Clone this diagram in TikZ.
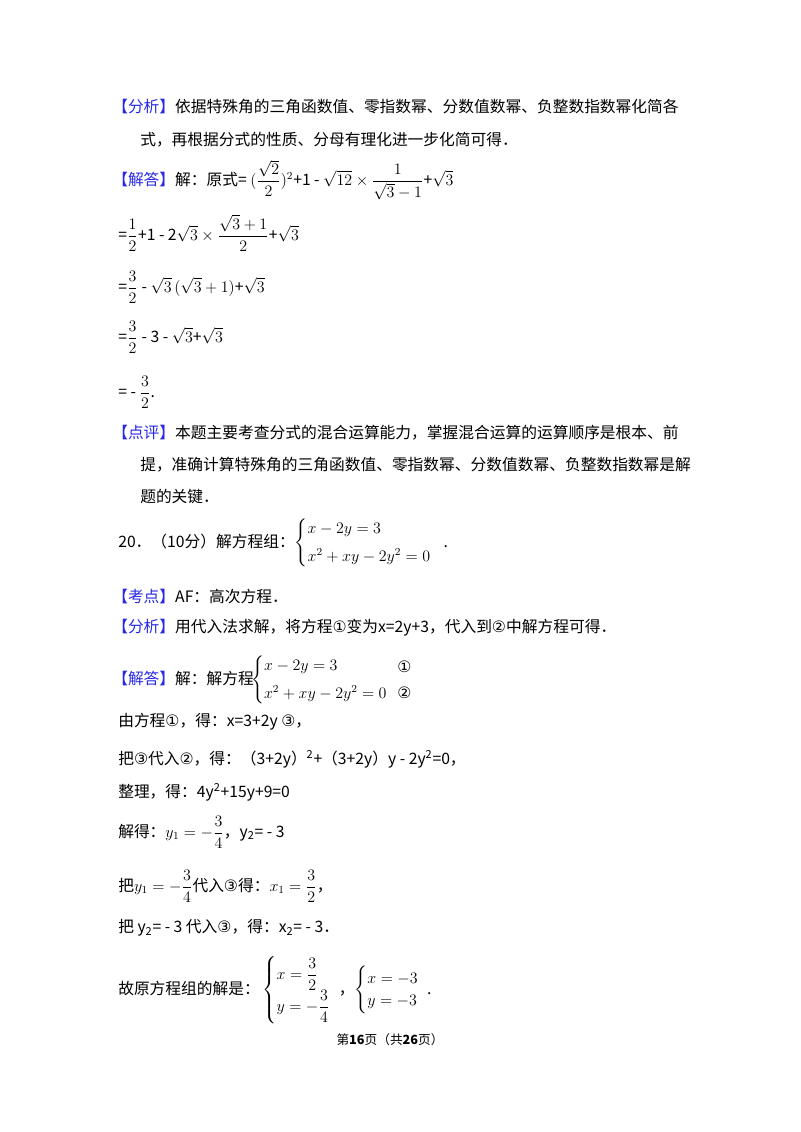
\documentclass[tikz,border=0pt]{standalone}
\usepackage{amsmath}
\usepackage{fontspec}
\setmainfont{Noto Sans CJK SC}
\newfontfamily\sym{DejaVu Sans}
\definecolor{kblue}{RGB}{40,40,230}
\begin{document}
\begin{tikzpicture}[x=0.75pt,y=-0.75pt,
  t/.style={anchor=west,inner sep=0,font=\fontsize{11.8}{14}\selectfont},
  m/.style={anchor=west,inner sep=0,font=\fontsize{11.8}{14}\selectfont}]
\useasboundingbox (0,0) rectangle (800,1132);
\newcommand{\kb}[1]{\textcolor{kblue}{【#1】}}
\node[t] (a1) at (112,107) {\kb{分析}依据特殊角的三角函数值、零指数幂、分数值数幂、负整数指数幂化简各};
\node[t] (a2) at (140,140) {式，再根据分式的性质、分母有理化进一步化简可得．};
\node[t] (b1) at (112,180) {\kb{解答}解：原式= $(\dfrac{\sqrt2}{2})^2$+1 - $\sqrt{12}\times\dfrac{1}{\sqrt3-1}$+$\sqrt3$};
\node[m] (b2) at (118,233) {=$\dfrac12$+1 - 2$\sqrt3\times\dfrac{\sqrt3+1}{2}$+$\sqrt3$};
\node[m] (b3) at (118,287) {=$\dfrac32$ - $\sqrt3\,(\sqrt3+1)$+$\sqrt3$};
\node[m] (b4) at (118,337) {=$\dfrac32$ - 3 - $\sqrt3$+$\sqrt3$};
\node[m] (b5) at (118,392) {= - $\dfrac32$.};
\node[t] (c1) at (112,433) {\kb{点评}本题主要考查分式的混合运算能力，掌握混合运算的运算顺序是根本、前};
\node[t] (c2) at (140,465) {提，准确计算特殊角的三角函数值、零指数幂、分数值数幂、负整数指数幂是解};
\node[t] (c3) at (140,497) {题的关键．};
\node[t] (d1) at (118,543) {20．（10分）解方程组：$\begin{cases}x-2y=3\\[4pt] x^2+xy-2y^2=0\end{cases}$\hspace{-3pt}.};
\node[t] (e1) at (112,597) {\kb{考点}AF：高次方程．};
\node[t] (e2) at (112,628) {\kb{分析}用代入法求解，将方程{\sym ①}变为x=2y+3，代入到{\sym ②}中解方程可得．};
\node[t] (f1) at (112,680) {\kb{解答}解：解方程\hspace{-2pt}$\begin{cases}x-2y=3\\[4pt] x^2+xy-2y^2=0\end{cases}$};
\node[t] (c1s) at (397,667) {\sym ①};
\node[t] (c2s) at (397,693) {\sym ②};
\node[t] (f2) at (118,722) {由方程{\sym ①}，得：x=3+2y {\sym ③}，};
\node[t] (f3) at (118,759) {把{\sym ③}代入{\sym ②}，得：（3+2y）\textsuperscript{2}+（3+2y）y - 2y\textsuperscript{2}=0，};
\node[t] (f4) at (118,792) {整理，得：4y\textsuperscript{2}+15y+9=0};
\node[t] (f5) at (118,832) {解得：$y_1=-\dfrac34$，y\textsubscript{2}= - 3};
\node[t] (f6) at (118,886) {把$y_1=-\dfrac34$代入{\sym ③}得：$x_1=\dfrac32$，};
\node[t] (f7) at (118,928) {把 y\textsubscript{2}= - 3 代入{\sym ③}，得：x\textsubscript{2}= - 3．};
\node[t] (f8) at (118,990) {故原方程组的解是：\,$\begin{cases}x=\dfrac32\\[2pt] y=-\dfrac34\end{cases}$\hspace{-6pt}，$\begin{cases}x=-3\\ y=-3\end{cases}$\hspace{-6pt}.};
\node[anchor=center,inner sep=0,font=\fontsize{9.5}{12}\selectfont] (pg) at (390,1040) {第\textbf{16}页（共\textbf{26}页）};
\end{tikzpicture}
\end{document}
